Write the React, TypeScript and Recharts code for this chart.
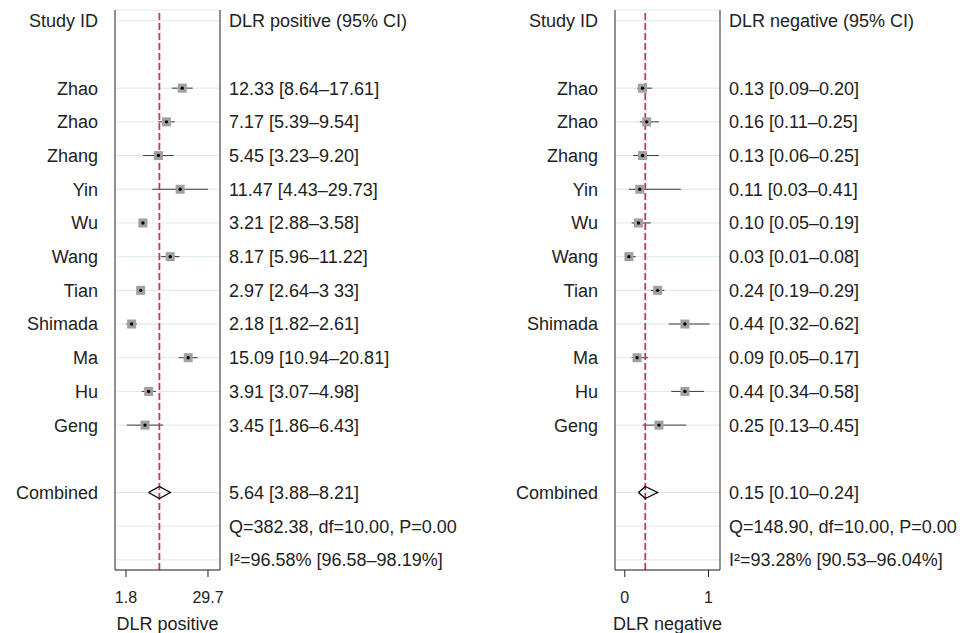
import React from "react";
import {
  ComposedChart,
  Scatter,
  XAxis,
  YAxis,
  CartesianGrid,
  ReferenceLine
} from "recharts";

const studies = ["Zhao", "Zhao", "Zhang", "Yin", "Wu", "Wang", "Tian", "Shimada", "Ma", "Hu", "Geng"];

// DLR positive
const posEst = [12.33, 7.17, 5.45, 11.47, 3.21, 8.17, 2.97, 2.18, 15.09, 3.91, 3.45];
const posLo = [8.64, 5.39, 3.23, 4.43, 2.88, 5.96, 2.64, 1.82, 10.94, 3.07, 1.86];
const posHi = [17.61, 9.54, 9.2, 29.73, 3.58, 11.22, 3.33, 2.61, 20.81, 4.98, 6.43];
const posText = [
  "12.33 [8.64–17.61]", "7.17 [5.39–9.54]", "5.45 [3.23–9.20]", "11.47 [4.43–29.73]",
  "3.21 [2.88–3.58]", "8.17 [5.96–11.22]", "2.97 [2.64–3 33]", "2.18 [1.82–2.61]",
  "15.09 [10.94–20.81]", "3.91 [3.07–4.98]", "3.45 [1.86–6.43]"
];
const posPooled = { est: 5.64, lo: 3.88, hi: 8.21, text: "5.64 [3.88–8.21]" };
const posStats = ["Q=382.38, df=10.00, P=0.00", "I²=96.58% [96.58–98.19%]"];
const posTicks = [1.8, 29.7];
const posTickLabels = ["1.8", "29.7"];

// DLR negative
const negEst = [0.13, 0.16, 0.13, 0.11, 0.1, 0.03, 0.24, 0.44, 0.09, 0.44, 0.25];
const negLo = [0.09, 0.11, 0.06, 0.03, 0.05, 0.01, 0.19, 0.32, 0.05, 0.34, 0.13];
const negHi = [0.2, 0.25, 0.25, 0.41, 0.19, 0.08, 0.29, 0.62, 0.17, 0.58, 0.45];
const negText = [
  "0.13 [0.09–0.20]", "0.16 [0.11–0.25]", "0.13 [0.06–0.25]", "0.11 [0.03–0.41]",
  "0.10 [0.05–0.19]", "0.03 [0.01–0.08]", "0.24 [0.19–0.29]", "0.44 [0.32–0.62]",
  "0.09 [0.05–0.17]", "0.44 [0.34–0.58]", "0.25 [0.13–0.45]"
];
const negPooled = { est: 0.15, lo: 0.1, hi: 0.24, text: "0.15 [0.10–0.24]" };
const negStats = ["Q=148.90, df=10.00, P=0.00", "I²=93.28% [90.53–96.04%]"];
const negTicks = [0, 0.6125];
const negTickLabels = ["0", "1"];

// row layout: header 0, studies 2..12, combined 14, stats 15-16
const FIRST_ROW = 2;
const COMBINED_ROW = 14;
const rowTicks = [0, ...studies.map((_, i) => i + FIRST_ROW), COMBINED_ROW, 15, 16];

const TEXT = "#222";
const FONT = "'Liberation Sans', Arial, Helvetica, sans-serif";

const StudyBox = (props: any) => {
  const { cx, cy } = props;
  if (cx == null || cy == null) return <g />;
  return (
    <g>
      <rect x={cx - 4.5} y={cy - 4.5} width={9} height={9} fill="#a0a0a0" />
      <circle cx={cx} cy={cy} r={1.7} fill="#000" />
    </g>
  );
};

interface PanelProps {
  est: number[];
  lo: number[];
  hi: number[];
  ciText: string[];
  pooled: { est: number; lo: number; hi: number; text: string };
  stats: string[];
  header: string;
  title: string;
  ticks: number[];
  tickLabels: string[];
  domain: [number, number];
  logScale: boolean;
  leftWidth: number;
  rightWidth: number;
}

const ForestPanel: React.FC<PanelProps> = p => {
  const leftLabels: Record<number, string> = { 0: "Study ID", [COMBINED_ROW]: "Combined" };
  const rightLabels: Record<number, string> = {
    0: p.header,
    [COMBINED_ROW]: p.pooled.text,
    15: p.stats[0],
    16: p.stats[1]
  };
  studies.forEach((s, i) => {
    leftLabels[i + FIRST_ROW] = s;
    rightLabels[i + FIRST_ROW] = p.ciText[i];
  });

  const points = p.est.map((v, i) => ({ x: v, y: i + FIRST_ROW }));
  const h = 0.18;
  const diamond = [
    { x: p.pooled.lo, y: COMBINED_ROW },
    { x: p.pooled.est, y: COMBINED_ROW - h },
    { x: p.pooled.hi, y: COMBINED_ROW },
    { x: p.pooled.est, y: COMBINED_ROW + h },
    { x: p.pooled.lo, y: COMBINED_ROW }
  ];

  return (
    <ComposedChart
      width={p.leftWidth + 105 + p.rightWidth}
      height={633}
      margin={{ top: 10, right: 0, bottom: 33, left: 0 }}
    >
      <CartesianGrid
        vertical={false}
        stroke="#dde8eb"
        strokeWidth={1}
        yAxisId="left"
      />
      <XAxis
        type="number"
        dataKey="x"
        scale={p.logScale ? "log" : "linear"}
        domain={p.domain}
        allowDataOverflow
        ticks={p.ticks}
        tickFormatter={(_v: number, i: number) => p.tickLabels[i]}
        height={30}
        tickSize={7}
        tickMargin={15}
        axisLine={{ stroke: "#222" }}
        tickLine={{ stroke: "#222" }}
        tick={{ fontSize: 16, fill: TEXT }}
        label={{ value: p.title, position: "bottom", offset: 17, fontSize: 18, fill: TEXT }}
      />
      <YAxis
        yAxisId="left"
        type="number"
        dataKey="y"
        domain={[-0.32, 16.3]}
        reversed
        allowDataOverflow
        ticks={rowTicks}
        interval={0}
        width={p.leftWidth}
        tickSize={0}
        tickMargin={17}
        tickLine={false}
        axisLine={{ stroke: "#222" }}
        tick={{ fontSize: 18, fill: TEXT }}
        tickFormatter={(v: number) => leftLabels[v] ?? ""}
      />
      <YAxis
        yAxisId="right"
        orientation="right"
        type="number"
        dataKey="y"
        domain={[-0.32, 16.3]}
        reversed
        allowDataOverflow
        ticks={rowTicks}
        interval={0}
        width={p.rightWidth}
        tickSize={0}
        tickMargin={9}
        tickLine={false}
        axisLine={{ stroke: "#222" }}
        tick={{ fontSize: 18, fill: TEXT, textAnchor: "start" }}
        tickFormatter={(v: number) => rightLabels[v] ?? ""}
      />
      {p.est.map((_, i) => (
        <ReferenceLine
          key={"ci" + i}
          yAxisId="left"
          segment={[
            { x: p.lo[i], y: i + FIRST_ROW },
            { x: p.hi[i], y: i + FIRST_ROW }
          ]}
          stroke="#3a3a3a"
          strokeWidth={1}
        />
      ))}
      <ReferenceLine
        yAxisId="left"
        x={p.pooled.est}
        stroke="#c2375c"
        strokeWidth={1.8}
        strokeDasharray="7 3"
      />
      <Scatter
        yAxisId="left"
        data={points}
        shape={StudyBox}
        isAnimationActive={false}
      />
      <Scatter
        yAxisId="left"
        data={diamond}
        line={{ stroke: "#000", strokeWidth: 1.3 }}
        lineType="joint"
        shape={() => <g />}
        isAnimationActive={false}
      />
    </ComposedChart>
  );
};

export default function App() {
  return (
    <div
      style={{
        position: "absolute",
        left: 0,
        top: 0,
        width: 968,
        height: 633,
        background: "#fff",
        fontFamily: FONT
      }}
    >
      <div style={{ position: "absolute", left: 0, top: 0 }}>
        <ForestPanel
          est={posEst}
          lo={posLo}
          hi={posHi}
          ciText={posText}
          pooled={posPooled}
          stats={posStats}
          header="DLR positive (95% CI)"
          title="DLR positive"
          ticks={posTicks}
          tickLabels={posTickLabels}
          domain={[1.236, 44.8]}
          logScale
          leftWidth={115}
          rightWidth={264}
        />
      </div>
      <div style={{ position: "absolute", left: 484, top: 0 }}>
        <ForestPanel
          est={negEst}
          lo={negLo}
          hi={negHi}
          ciText={negText}
          pooled={negPooled}
          stats={negStats}
          header="DLR negative (95% CI)"
          title="DLR negative"
          ticks={negTicks}
          tickLabels={negTickLabels}
          domain={[-0.0716, 0.6967]}
          logScale={false}
          leftWidth={131}
          rightWidth={249}
        />
      </div>
    </div>
  );
}
